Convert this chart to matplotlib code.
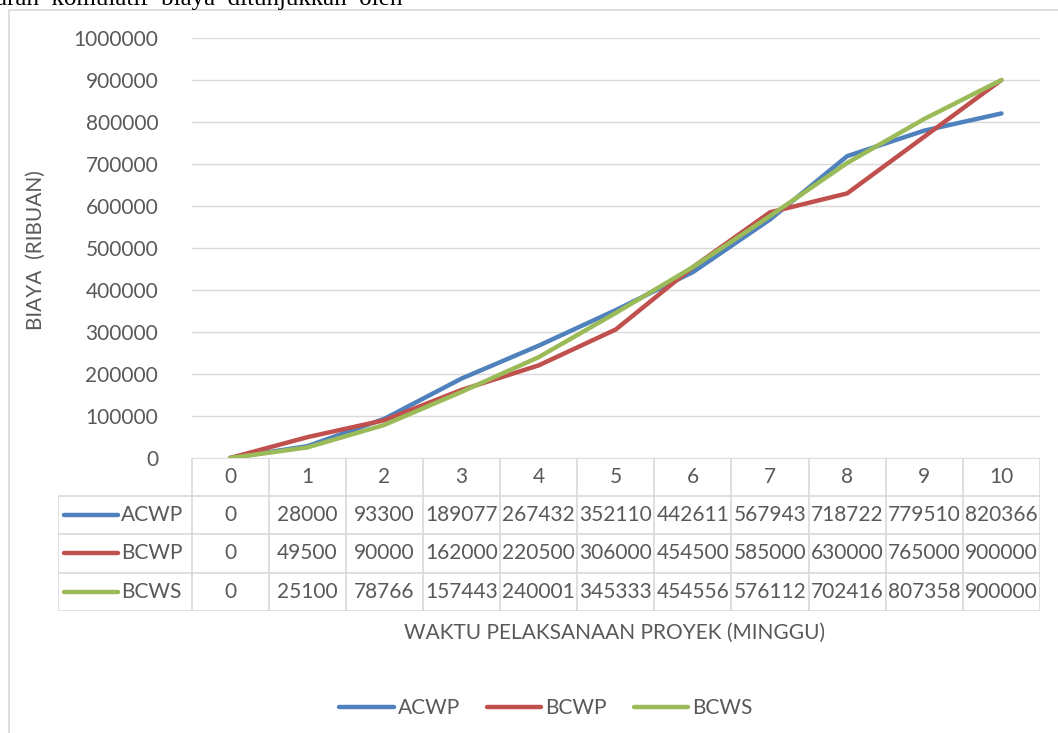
import numpy as np
import matplotlib
matplotlib.use("Agg")
import matplotlib.pyplot as plt
from matplotlib.lines import Line2D

weeks = [0, 1, 2, 3, 4, 5, 6, 7, 8, 9, 10]
acwp = [0, 28000, 93300, 189077, 267432, 352110, 442611, 567943, 718722, 779510, 820366]
bcwp = [0, 49500, 90000, 162000, 220500, 306000, 454500, 585000, 630000, 765000, 900000]
bcws = [0, 25100, 78766, 157443, 240001, 345333, 454556, 576112, 702416, 807358, 900000]
series_names = ["ACWP", "BCWP", "BCWS"]
colors = ["#4F81BD", "#C0504D", "#9BBB59"]
yticks = list(range(0, 1000001, 100000))

W, H = 1058, 733
plt.rcParams['font.family'] = ['Lato', 'DejaVu Sans']
txt = "#595959"
grid = "#D9D9D9"
fs = 15

fig = plt.figure(figsize=(W / 100, H / 100), dpi=100)

def fx(px):
    return px / W

def fy(py):
    return 1 - py / H

# clipped caption line from the document above the chart
fig.text(fx(-4), fy(5), "arah  komulatif  biaya  ditunjukkan  oleh",
         family="Liberation Serif", fontsize=18, color="black", va="baseline")

# chart frame
fig.add_artist(plt.Rectangle((fx(9), fy(760)), fx(1100), fy(10) - fy(760),
                             transform=fig.transFigure, fill=False,
                             edgecolor=grid, lw=1.2))

left, right = 191.5, 1040
top, base = 38, 458
ax = fig.add_axes([fx(left), fy(base), fx(right - left), fy(top) - fy(base)])
ax.set_xlim(-0.5, 10.5)
ax.set_ylim(0, 1000000)
for s in ax.spines.values():
    s.set_visible(False)
ax.set_yticks(yticks)
ax.set_yticklabels([str(v) for v in yticks], fontsize=fs, color=txt)
ax.tick_params(axis='y', length=0, pad=24)
ax.set_xticks([])
ax.yaxis.grid(True, color=grid, lw=1)
ax.set_axisbelow(True)
ax.patch.set_alpha(0)

all_series = [acwp, bcwp, bcws]
for vals, c, n in zip(all_series, colors, series_names):
    ax.plot(weeks, vals, color=c, lw=3.2, solid_capstyle='round', label=n)

# y-axis title
fig.text(fx(36), fy(250), "BIAYA  (RIBUAN)", rotation=90, fontsize=fs,
         color=txt, ha="center", va="center")

# data table under the plot
colw = (right - left) / 11
tleft = 58
lab_w = (left - tleft) / colw
tb = fig.add_axes([fx(tleft), fy(611), fx(right - tleft), fy(457.6) - fy(611)])
x0 = -0.5 - lab_w
tb.set_xlim(x0, 10.5)
tb.set_ylim(4, 0)
tb.axis("off")

tb.hlines(0, -0.5, 10.5, color=grid, lw=1.2)
tb.hlines([1, 2, 3, 4], x0, 10.5, color=grid, lw=1.2)
tb.vlines([k - 0.5 for k in range(12)], 0, 4, color=grid, lw=1.2)
tb.vlines(x0, 1, 4, color=grid, lw=1.2)

for w in weeks:
    tb.text(w, 0.5, str(w), ha="center", va="center", fontsize=fs, color=txt)
for r, (vals, c, n) in enumerate(zip(all_series, colors, series_names)):
    y = r + 1.5
    tb.plot([x0 + 6 / colw, x0 + 60 / colw], [y, y], color=c, lw=3.2,
            solid_capstyle='round')
    tb.text(x0 + 63 / colw, y, n, ha="left", va="center", fontsize=fs, color=txt)
    for w, v in zip(weeks, vals):
        tb.text(w, y, str(v), ha="center", va="center", fontsize=fs, color=txt)

# x-axis title
fig.text(fx(615), fy(633), "WAKTU PELAKSANAAN PROYEK (MINGGU)", fontsize=fs,
         color=txt, ha="center", va="center")

handles = [Line2D([], [], color=c, lw=3.2, solid_capstyle='round') for c in colors]
leg = fig.legend(handles, series_names, loc="center", bbox_to_anchor=(fx(546), fy(708)),
                 ncol=3, frameon=False, fontsize=fs, handlelength=2.6,
                 handletextpad=0.2, columnspacing=1.3)
for t in leg.get_texts():
    t.set_color(txt)

fig.savefig("out.png", dpi=100)
